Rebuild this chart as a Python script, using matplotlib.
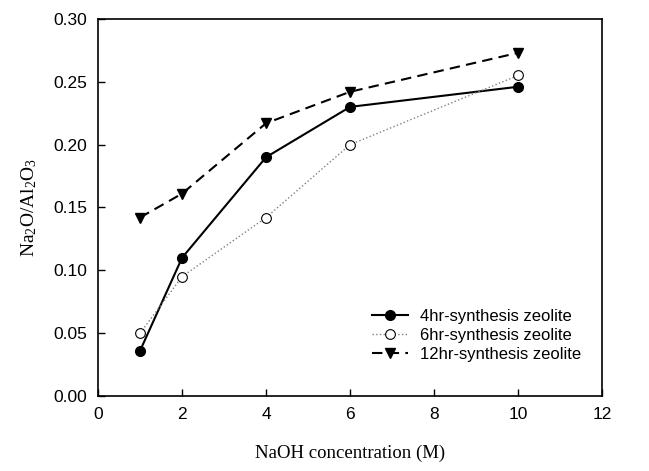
import matplotlib
matplotlib.use("Agg")
import matplotlib.pyplot as plt

# NaOH concentration (M)
naoh = [1, 2, 4, 6, 10]

# Na2O/Al2O3 ratio for each synthesis time
hr4 = [0.036, 0.110, 0.190, 0.230, 0.246]
hr6 = [0.050, 0.095, 0.142, 0.200, 0.255]
hr12 = [0.142, 0.161, 0.217, 0.242, 0.273]

plt.rcParams["mathtext.fontset"] = "custom"
plt.rcParams["mathtext.rm"] = "Liberation Serif"
plt.rcParams["mathtext.it"] = "Liberation Serif:italic"

fig = plt.figure(figsize=(6.49, 4.71), dpi=100)
ax = fig.add_axes([0.151, 0.159, 0.777, 0.801])

ax.plot(naoh, hr4, color="black", lw=1.5, ls="-", marker="o", ms=7,
        label="4hr-synthesis zeolite")
ax.plot(naoh, hr6, color="gray", lw=1.0, ls=":", marker="o", ms=7,
        mfc="white", mec="black", mew=0.8, label="6hr-synthesis zeolite")
ax.plot(naoh, hr12, color="black", lw=1.5, ls=(0, (5, 3)), marker="v", ms=7,
        label="12hr-synthesis zeolite")

ax.set_xlim(0, 12)
ax.set_ylim(0, 0.30)
ax.set_xticks(range(0, 13, 2))
ax.set_yticks([0, 0.05, 0.10, 0.15, 0.20, 0.25, 0.30])
ax.set_yticklabels(["0.00", "0.05", "0.10", "0.15", "0.20", "0.25", "0.30"])
ax.tick_params(direction="in", length=5, width=1, pad=8, labelsize=12.5)
for lab in ax.get_xticklabels() + ax.get_yticklabels():
    lab.set_family("Liberation Sans")
for sp in ax.spines.values():
    sp.set_linewidth(1.2)

ax.set_xlabel("NaOH concentration (M)", family="Liberation Serif", fontsize=13.5, labelpad=16)
ax.set_ylabel(r"Na$_2$O/Al$_2$O$_3$", family="Liberation Serif", fontsize=14, labelpad=10)

leg = ax.legend(loc="lower right", bbox_to_anchor=(0.988, 0.05), frameon=False,
                prop={"family": "Liberation Sans", "size": 12},
                handlelength=2.2, labelspacing=0.25, handletextpad=0.7)

fig.savefig("out.png", dpi=100)
